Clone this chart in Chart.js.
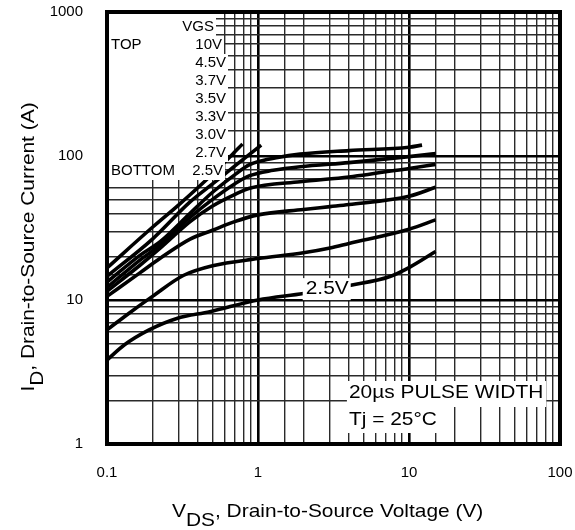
<!DOCTYPE html>
<html>
<head>
<meta charset="utf-8">
<script src="https://cdn.jsdelivr.net/npm/chart.js@4/dist/chart.umd.min.js"></script>
<style>
  html, body { margin: 0; padding: 0; background: #fff; }
  #wrap { width: 575px; height: 530px; }
</style>
</head>
<body>
<div id="wrap"><canvas id="c" width="575" height="530"></canvas></div>
<script>
// VDS (V), ID (A) read off the typical output characteristics
const vgsNames = ['10V', '4.5V', '3.7V', '3.5V', '3.3V', '3.0V', '2.7V', '2.5V'];
const vgs10V = [[0.1, 16.7], [0.2, 32], [0.3, 46], [0.5, 75], [0.79, 121]];
const vgs4V5 = [[0.1, 14.6], [0.2, 26.5], [0.355, 48], [0.5, 64], [0.7, 85], [1.05, 119]];
const vgs3V7 = [[0.1, 13.3], [0.166, 20.5], [0.225, 25.4], [0.355, 40], [0.5, 56], [0.7, 74], [0.88, 87], [1.03, 92], [1.32, 97.3], [1.9, 103], [4, 109], [10, 115], [12.2, 119]];
const vgs3V5 = [[0.1, 12.2], [0.166, 19], [0.225, 24.1], [0.355, 37.5], [0.5, 50], [0.7, 64], [0.88, 73], [1.26, 79.5], [1.9, 84.3], [4, 90], [10, 99], [15, 104]];
const vgs3V3 = [[0.1, 11.5], [0.166, 17.5], [0.225, 22.9], [0.355, 35], [0.5, 45], [0.7, 54], [0.88, 59.7], [1.9, 66.3], [4, 71.5], [10, 82], [15, 87.5]];
const vgs3V0 = [[0.1, 10.6], [0.166, 15.5], [0.225, 19.5], [0.355, 26.5], [0.5, 30.5], [0.7, 35], [1, 39], [2, 42.5], [3, 44.5], [4, 46], [10, 52.5], [15, 60.6]];
const vgs2V7 = [[0.1, 6.2], [0.14, 8.1], [0.2, 10.6], [0.32, 14.8], [0.5, 17.3], [1, 19.4], [2, 21.3], [3, 23], [4, 24.7], [10, 31], [15, 36]];
const vgs2V5 = [[0.1, 3.83], [0.13, 4.87], [0.19, 6.2], [0.29, 7.45], [0.48, 8.3], [1, 10], [2, 11.1], [4.2, 12.7], [7.4, 14.5], [10, 16.8], [15, 21.7]];
const curves = [vgs10V, vgs4V5, vgs3V7, vgs3V5, vgs3V3, vgs3V0, vgs2V7, vgs2V5];

const xTickLabels = ['0.1', '1', '10', '100'];
const yTickLabels = ['1', '10', '100', '1000'];
const legendRows = ['VGS', '10V', '4.5V', '3.7V', '3.5V', '3.3V', '3.0V', '2.7V', '2.5V'];
const noteLines = ['20\u00B5s PULSE WIDTH', 'Tj = 25\u00B0C'];

const FONT = '"Liberation Sans", Arial, Helvetica, sans-serif';

function isDecade(v) {
  const l = Math.log10(v);
  return Math.abs(l - Math.round(l)) < 1e-6;
}

function txt(ctx, str, x, y, size, sx, align, baseline) {
  ctx.save();
  ctx.font = size + 'px ' + FONT;
  ctx.textBaseline = baseline || 'middle';
  const w = ctx.measureText(str).width * sx;
  const x0 = align === 'right' ? x - w : align === 'center' ? x - w / 2 : x;
  ctx.translate(x0, y);
  ctx.scale(sx, 1);
  ctx.fillStyle = '#000';
  ctx.textAlign = 'left';
  ctx.fillText(str, 0, 0);
  ctx.restore();
  return w;
}

function textWidth(ctx, str, size, sx) {
  ctx.save();
  ctx.font = size + 'px ' + FONT;
  const w = ctx.measureText(str).width * sx;
  ctx.restore();
  return w;
}

// keep the plot box where the datasheet has it, ignore label overflow
function fixBox(s, key, val) {
  s[key] = val;
  s.paddingTop = 0; s.paddingBottom = 0; s.paddingLeft = 0; s.paddingRight = 0;
}

const decor = {
  id: 'decor',
  afterDatasetsDraw(chart) {
    const ctx = chart.ctx;
    const ca = chart.chartArea;
    const xs = chart.scales.x, ys = chart.scales.y;

    // legend block (white behind text, hides grid and curve tips)
    const rowY = (i) => ca.top + 15 + i * 18;
    const rightEdge = [216, 224, 228, 228, 228, 228, 228, 228, 225];
    ctx.fillStyle = '#fff';
    legendRows.forEach((r, i) => {
      ctx.fillRect(ca.left, i === 0 ? ca.top : rowY(i) - 9, rightEdge[i] - ca.left, i === 0 ? 24 : 18);
    });
    legendRows.forEach((r, i) => {
      txt(ctx, r, rightEdge[i] - 2, rowY(i), 15, 1, 'right');
    });
    txt(ctx, 'TOP', ca.left + 4, rowY(1), 15, 1, 'left');
    txt(ctx, 'BOTTOM', ca.left + 4, rowY(8), 15, 1, 'left');

    // 2.5V label sitting on the bottom curve
    const lx = xs.getPixelForValue(2.07), ly = ys.getPixelForValue(11.9);
    const lw = textWidth(ctx, '2.5V', 19, 1.1);
    ctx.fillStyle = '#fff';
    ctx.fillRect(lx - 3, ly - 11, lw + 5, 22);
    txt(ctx, '2.5V', lx, ly, 19, 1.1, 'left');

    // test condition note
    const nx = xs.getPixelForValue(4.0);
    const n1 = ca.bottom - 51, n2 = ca.bottom - 24;
    const w1 = textWidth(ctx, noteLines[0], 19, 1.1);
    const w2 = textWidth(ctx, noteLines[1], 19, 1.1);
    ctx.fillStyle = '#fff';
    ctx.fillRect(nx - 2, n1 - 12, w1 + 5, 26);
    ctx.fillRect(nx - 2, n2 - 13, w2 + 4, 26);
    txt(ctx, noteLines[0], nx, n1, 19, 1.1, 'left');
    txt(ctx, noteLines[1], nx, n2, 19, 1.1, 'left');

    // heavy frame
    ctx.save();
    ctx.strokeStyle = '#000';
    ctx.lineWidth = 4;
    ctx.strokeRect(ca.left, ca.top, ca.right - ca.left, ca.bottom - ca.top);
    ctx.restore();
  },
  afterDraw(chart) {
    const ctx = chart.ctx;
    // x axis title with subscript
    let x = 172;
    const yb = 517;
    x += txt(ctx, 'V', x, yb, 19, 1.1, 'left', 'alphabetic');
    x += txt(ctx, 'DS', x, yb + 9, 19, 1.1, 'left', 'alphabetic');
    txt(ctx, ', Drain-to-Source Voltage (V)', x, yb, 19, 1.1, 'left', 'alphabetic');

    // y axis title, rotated
    ctx.save();
    ctx.translate(34, 247);
    ctx.rotate(-Math.PI / 2);
    const parts = ['I', 'D', ', Drain-to-Source Current (A)'];
    const total = parts.reduce((s, p) => s + textWidth(ctx, p, 19, 1.1), 0);
    let p = -total / 2;
    p += txt(ctx, parts[0], p, 0, 19, 1.1, 'left', 'alphabetic');
    p += txt(ctx, parts[1], p, 9, 19, 1.1, 'left', 'alphabetic');
    txt(ctx, parts[2], p, 0, 19, 1.1, 'left', 'alphabetic');
    ctx.restore();
  }
};

const gridColor = (c) => (c.tick && isDecade(c.tick.value)) ? '#000' : '#2a2a2a';
const gridWidth = (c) => (c.tick && isDecade(c.tick.value)) ? 2.6 : 1.4;

new Chart(document.getElementById('c').getContext('2d'), {
  type: 'scatter',
  data: {
    datasets: curves.map((pts, i) => ({
      label: vgsNames[i],
      data: pts.map(([x, y]) => ({ x, y })),
      showLine: true,
      borderColor: '#000',
      borderWidth: 3.6,
      pointRadius: 0,
      cubicInterpolationMode: 'monotone',
      fill: false,
    })),
  },
  options: {
    responsive: false,
    animation: false,
    layout: { padding: { top: 12, right: 15, left: 0, bottom: 0 } },
    plugins: { legend: { display: false }, tooltip: { enabled: false } },
    scales: {
      x: {
        type: 'logarithmic',
        min: 0.1,
        max: 100,
        afterFit: (s) => fixBox(s, 'height', 86),
        border: { display: false },
        grid: { color: gridColor, lineWidth: gridWidth, drawTicks: false },
        ticks: {
          autoSkip: false,
          maxRotation: 0,
          padding: 20,
          color: '#000',
          font: { family: FONT, size: 15 },
          callback: (v) => isDecade(v) ? xTickLabels[Math.round(Math.log10(v)) + 1] : '',
        },
      },
      y: {
        type: 'logarithmic',
        min: 1,
        max: 1000,
        afterFit: (s) => fixBox(s, 'width', 107),
        border: { display: false },
        grid: { color: gridColor, lineWidth: gridWidth, drawTicks: false },
        ticks: {
          autoSkip: false,
          padding: 24,
          color: '#000',
          font: { family: FONT, size: 15 },
          callback: (v) => isDecade(v) ? yTickLabels[Math.round(Math.log10(v))] : '',
        },
      },
    },
  },
  plugins: [decor],
});
</script>
</body>
</html>
